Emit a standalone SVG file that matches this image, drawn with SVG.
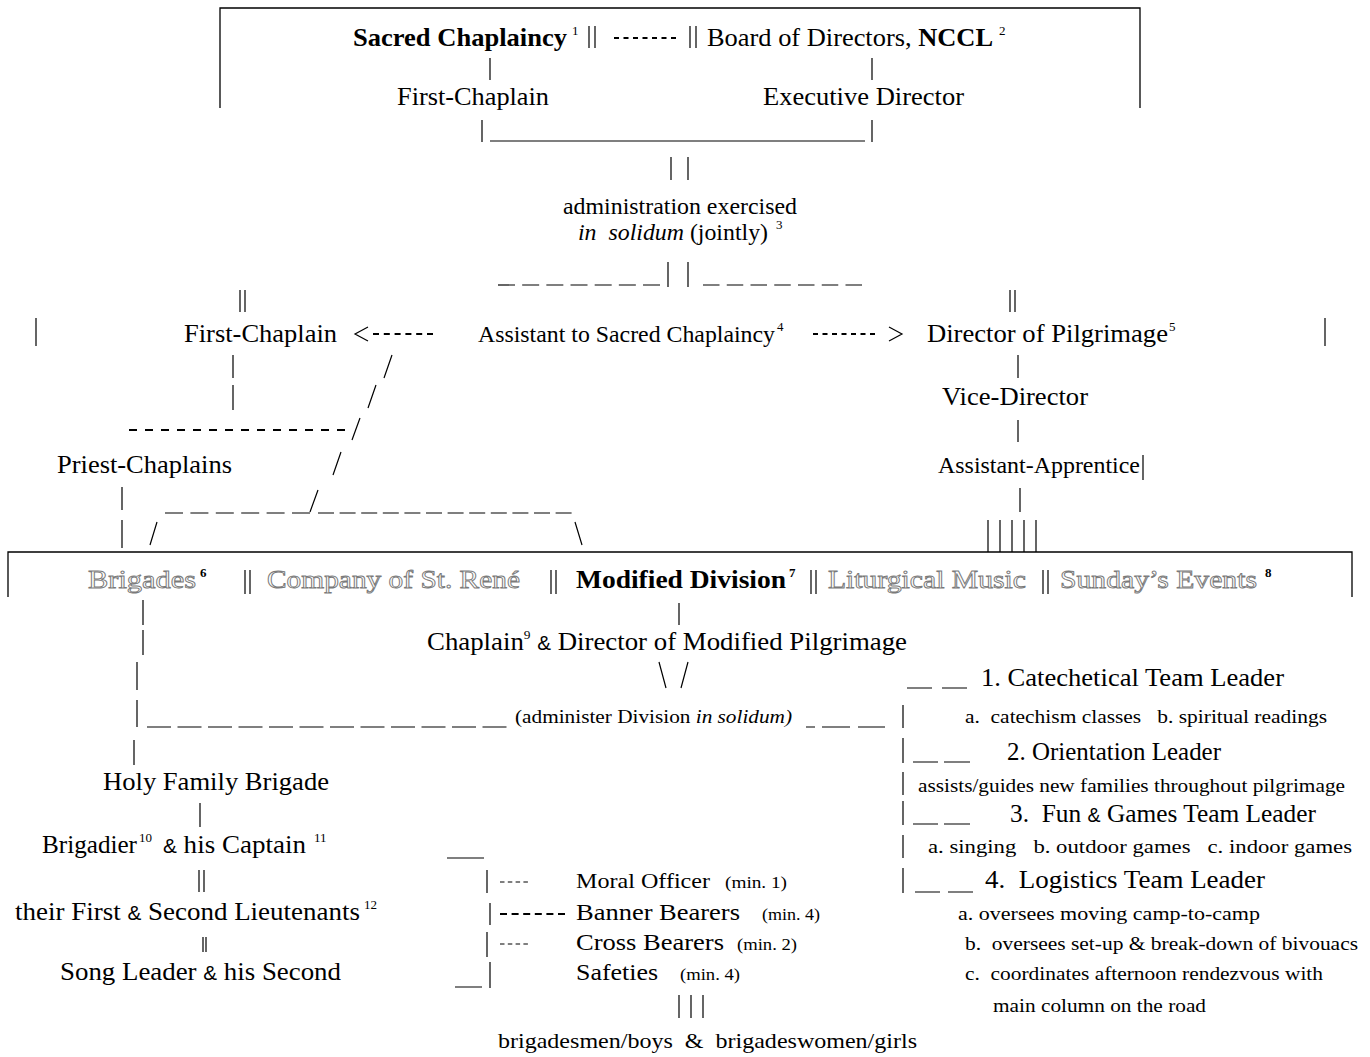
<svg xmlns="http://www.w3.org/2000/svg" width="1370" height="1057" viewBox="0 0 1370 1057">
<style>
text{font-family:"Liberation Serif","Times New Roman",serif;fill:#000;white-space:pre}
.b{font-weight:bold}
.i{font-style:italic}
.s26{font-size:26px}
.s24{font-size:24px}
.s23{font-size:23px}
.s22{font-size:22px}
.s19{font-size:19px}
.s16{font-size:16px}
.sup{font-size:13px}
.ol{fill:#fff;stroke:#7a7a7a;stroke-width:0.9px}
.amp{font-family:"Liberation Sans",Arial,sans-serif;font-size:20px}
.ln{stroke:#000;stroke-width:1.2;fill:none}
.bd{stroke:#000;stroke-width:2.2;fill:none}
.frame{stroke:#000;stroke-width:1.3;fill:none}
</style>
<rect width="1370" height="1057" fill="#fff"/>

<g id="frames">
<path class="frame" d="M220,108 V8 H1140 V108"/>
<path class="frame" d="M8,597 V552 H1352 V597"/>
</g>

<g id="connectors">
<path class="ln" d="M589,26V48 M595,26V48 M690,26V48 M696,26V48"/>
<line class="bd" x1="614" y1="38" x2="676" y2="38" stroke-dasharray="5 4.5"/>
<path class="ln" d="M490,58V80 M872,58V80"/>
<path class="ln" d="M482,120V142 M872,120V142 M490,141H865"/>
<path class="ln" d="M671,157V180 M688,157V180"/>
<path class="ln" d="M668,262V287 M688,262V287"/>
<line class="ln" x1="498" y1="285" x2="660" y2="285" stroke-dasharray="17 7.17"/>
<line class="ln" x1="703" y1="285" x2="862" y2="285" stroke-dasharray="16.5 7.25"/>
<path class="ln" d="M240,290V312 M245,290V312 M1010,290V312 M1015,290V312"/>
<path class="ln" d="M36,318V346 M1325,318V346"/>
<polyline class="ln" points="368,327 355,334 368,341"/>
<line class="bd" x1="373" y1="334" x2="433" y2="334" stroke-dasharray="6 4.8"/>
<line class="bd" x1="813" y1="334" x2="875" y2="334" stroke-dasharray="5 4.5"/>
<polyline class="ln" points="889,327 902,334 889,341"/>
<path class="ln" d="M233,355V378 M233,385V410"/>
<path class="ln" d="M392,355L384,378 M376,385L368,408 M360,418L352,440 M341,452L333,475 M318,490L310,512"/>
<line class="bd" x1="129" y1="430" x2="345" y2="430" stroke-dasharray="8 8"/>
<path class="ln" d="M122,487V510 M122,520V548"/>
<line class="ln" x1="165" y1="513" x2="310" y2="513" stroke-dasharray="18 7.4"/>
<line class="ln" x1="318" y1="513" x2="572" y2="513" stroke-dasharray="16 5.6"/>
<path class="ln" d="M157,522L150,545 M575,522L582,545"/>
<path class="ln" d="M1018,355V378 M1018,420V442 M1143,455V480 M1020,488V512"/>
<path class="ln" d="M988,520V552 M1000,520V552 M1012,520V552 M1024,520V552 M1036,520V552"/>
<path class="ln" d="M245,570V594 M250,570V594 M551,570V594 M556,570V594 M811,570V594 M816,570V594 M1043,570V594 M1048,570V594"/>
<path class="ln" d="M143,600V625 M143,630V655 M137,662V690 M137,700V727 M134,740V765"/>
<line class="ln" x1="147" y1="727" x2="507" y2="727" stroke-dasharray="24 6.5"/>
<path class="ln" d="M200,803V827 M199,870V892 M204,870V892 M203,937V952 M206,937V952"/>
<path class="ln" d="M679,603V625 M659,662L666,688 M688,662L681,688"/>
<path class="ln" d="M806,727H815 M822,727H850 M858,727H885"/>
<path class="ln" d="M903,705V728 M903,738V763 M903,772V795 M903,801V825 M903,835V858 M903,868V893"/>
<path class="ln" d="M907,688H932 M942,688H967 M913,762H938 M944,762H970 M913,824H938 M944,824H970 M915,892H940 M948,892H973"/>
<path class="ln" d="M447,858H484 M487,870V893 M490,903V925 M487,932V957 M490,962V988 M455,987H482"/>
<line class="ln" x1="500" y1="882" x2="528" y2="882" stroke-width="1.6" stroke-dasharray="4.5 3.3"/>
<line class="bd" x1="500" y1="914" x2="565" y2="914" stroke-dasharray="7 4.6"/>
<line class="ln" x1="500" y1="944" x2="528" y2="944" stroke-width="1.6" stroke-dasharray="4.5 3.3"/>
<path class="ln" d="M679,995V1018 M691,995V1018 M703,995V1018"/>
</g>

<g id="node-sacred-chaplaincy">
<text class="s26 b" x="353" y="46" textLength="214" lengthAdjust="spacingAndGlyphs">Sacred Chaplaincy</text>
<text class="sup" x="572" y="35">1</text>
</g>
<g id="node-board">
<text class="s26" x="707" y="46" textLength="286" lengthAdjust="spacingAndGlyphs">Board of Directors, <tspan class="b">NCCL</tspan></text>
<text class="sup" x="999" y="35">2</text>
</g>
<g id="node-first-chaplain-top"><text class="s26" x="397" y="105" textLength="152" lengthAdjust="spacingAndGlyphs">First-Chaplain</text></g>
<g id="node-executive-director"><text class="s26" x="763" y="105" textLength="201" lengthAdjust="spacingAndGlyphs">Executive Director</text></g>

<g id="node-administration">
<text class="s23" x="563" y="214" textLength="234" lengthAdjust="spacingAndGlyphs">administration exercised</text>
<text class="s23" x="578" y="240" textLength="190" lengthAdjust="spacingAndGlyphs"><tspan class="i">in  solidum</tspan> (jointly)</text>
<text class="sup" x="776" y="229">3</text>
</g>

<g id="node-first-chaplain">
<text class="s26" x="184" y="342" textLength="153" lengthAdjust="spacingAndGlyphs">First-Chaplain</text>
</g>
<g id="node-assistant">
<text class="s23" x="478" y="342" textLength="297" lengthAdjust="spacingAndGlyphs">Assistant to Sacred Chaplaincy</text>
<text class="sup" x="777" y="331">4</text>
</g>
<g id="node-director">
<text class="s26" x="927" y="342" textLength="241" lengthAdjust="spacingAndGlyphs">Director of Pilgrimage</text>
<text class="sup" x="1169" y="331">5</text>
</g>
<g id="node-vice-director"><text class="s26" x="942" y="405" textLength="146" lengthAdjust="spacingAndGlyphs">Vice-Director</text></g>
<g id="node-priest-chaplains"><text class="s26" x="57" y="473" textLength="175" lengthAdjust="spacingAndGlyphs">Priest-Chaplains</text></g>
<g id="node-assistant-apprentice"><text class="s23" x="938" y="473" textLength="202" lengthAdjust="spacingAndGlyphs">Assistant-Apprentice</text></g>

<g id="node-brigades">
<text class="s26 ol" x="88" y="588" textLength="108" lengthAdjust="spacingAndGlyphs">Brigades</text>
<text class="sup b" x="200" y="577">6</text>
</g>
<g id="node-company"><text class="s26 ol" x="267" y="588" textLength="253" lengthAdjust="spacingAndGlyphs">Company of St. René</text></g>
<g id="node-modified-division">
<text class="s26 b" x="576" y="588" textLength="210" lengthAdjust="spacingAndGlyphs">Modified Division</text>
<text class="sup b" x="789" y="577">7</text>
</g>
<g id="node-liturgical"><text class="s26 ol" x="828" y="588" textLength="198" lengthAdjust="spacingAndGlyphs">Liturgical Music</text></g>
<g id="node-sunday">
<text class="s26 ol" x="1060" y="588" textLength="197" lengthAdjust="spacingAndGlyphs">Sunday’s Events</text>
<text class="sup b" x="1265" y="577">8</text>
</g>

<g id="node-chaplain-director">
<text class="s26" x="427" y="650" textLength="480" lengthAdjust="spacingAndGlyphs">Chaplain<tspan class="sup" dy="-11">9</tspan><tspan dy="11"> </tspan><tspan class="amp">&amp;</tspan> Director of Modified Pilgrimage</text>
</g>
<g id="node-administer"><text class="s19" x="515" y="723" textLength="277" lengthAdjust="spacingAndGlyphs">(administer Division <tspan class="i">in solidum)</tspan></text></g>

<g id="node-catechetical">
<text class="s26" x="981" y="686" textLength="303" lengthAdjust="spacingAndGlyphs">1. Catechetical Team Leader</text>
<text class="s19" x="965" y="723" textLength="362" lengthAdjust="spacingAndGlyphs">a.  catechism classes   b. spiritual readings</text>
</g>
<g id="node-orientation">
<text class="s26" x="1007" y="760" textLength="214" lengthAdjust="spacingAndGlyphs">2. Orientation Leader</text>
<text class="s19" x="918" y="792" textLength="427" lengthAdjust="spacingAndGlyphs">assists/guides new families throughout pilgrimage</text>
</g>
<g id="node-fun-games">
<text class="s26" x="1010" y="822" textLength="306" lengthAdjust="spacingAndGlyphs">3.  Fun <tspan class="amp">&amp;</tspan> Games Team Leader</text>
<text class="s19" x="928" y="853" textLength="424" lengthAdjust="spacingAndGlyphs">a. singing   b. outdoor games   c. indoor games</text>
</g>
<g id="node-logistics">
<text class="s26" x="985" y="888" textLength="280" lengthAdjust="spacingAndGlyphs">4.  Logistics Team Leader</text>
<text class="s19" x="958" y="920" textLength="302" lengthAdjust="spacingAndGlyphs">a. oversees moving camp-to-camp</text>
<text class="s19" x="965" y="950" textLength="393" lengthAdjust="spacingAndGlyphs">b.  oversees set-up &amp; break-down of bivouacs</text>
<text class="s19" x="965" y="980" textLength="358" lengthAdjust="spacingAndGlyphs">c.  coordinates afternoon rendezvous with</text>
<text class="s19" x="993" y="1012" textLength="213" lengthAdjust="spacingAndGlyphs">main column on the road</text>
</g>

<g id="node-holy-family"><text class="s26" x="103" y="790" textLength="226" lengthAdjust="spacingAndGlyphs">Holy Family Brigade</text></g>
<g id="node-brigadier">
<text class="s26" x="42" y="853" textLength="95" lengthAdjust="spacingAndGlyphs">Brigadier</text>
<text class="sup" x="139" y="842">10</text>
<text class="s26" x="163" y="853" textLength="143" lengthAdjust="spacingAndGlyphs"><tspan class="amp">&amp;</tspan> his Captain</text>
<text class="sup" x="314" y="842">11</text>
</g>
<g id="node-lieutenants">
<text class="s26" x="15" y="920" textLength="345" lengthAdjust="spacingAndGlyphs">their First <tspan class="amp">&amp;</tspan> Second Lieutenants</text>
<text class="sup" x="364" y="909">12</text>
</g>
<g id="node-song-leader"><text class="s26" x="60" y="980" textLength="281" lengthAdjust="spacingAndGlyphs">Song Leader <tspan class="amp">&amp;</tspan> his Second</text></g>

<g id="node-moral-officer">
<text class="s22" x="576" y="888" textLength="134" lengthAdjust="spacingAndGlyphs">Moral Officer</text>
<text class="s16" x="725" y="888" textLength="62" lengthAdjust="spacingAndGlyphs">(min. 1)</text>
</g>
<g id="node-banner-bearers">
<text class="s24" x="576" y="920" textLength="164" lengthAdjust="spacingAndGlyphs">Banner Bearers</text>
<text class="s16" x="762" y="920" textLength="58" lengthAdjust="spacingAndGlyphs">(min. 4)</text>
</g>
<g id="node-cross-bearers">
<text class="s24" x="576" y="950" textLength="148" lengthAdjust="spacingAndGlyphs">Cross Bearers</text>
<text class="s16" x="737" y="950" textLength="60" lengthAdjust="spacingAndGlyphs">(min. 2)</text>
</g>
<g id="node-safeties">
<text class="s24" x="576" y="980" textLength="82" lengthAdjust="spacingAndGlyphs">Safeties</text>
<text class="s16" x="680" y="980" textLength="60" lengthAdjust="spacingAndGlyphs">(min. 4)</text>
</g>
<g id="node-brigadesmen"><text class="s22" x="498" y="1048" textLength="419" lengthAdjust="spacingAndGlyphs">brigadesmen/boys  &amp;  brigadeswomen/girls</text></g>
</svg>
